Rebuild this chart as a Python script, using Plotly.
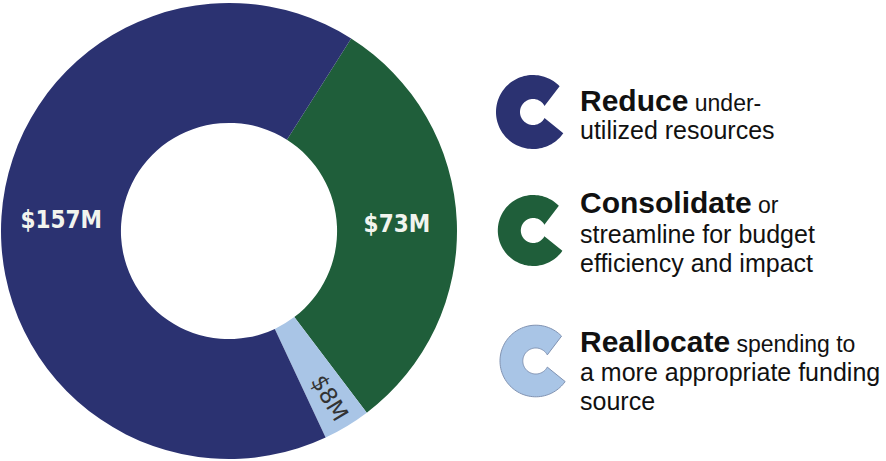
import numpy as np
import plotly.graph_objects as go

# Spending by action (millions of dollars), in clockwise order from the top
categories = ["Consolidate", "Reallocate", "Reduce"]
amounts = [73, 8, 157]
slice_colors = ["#1F5E3A", "#A9C5E6", "#2B3271"]
label_colors = ["#F2F4EE", "#333333", "#F2F4EE"]

# Legend entries: (bold lead word, rest of first line, following lines)
legend_items = [
    ("Reduce", "under-", ["utilized resources"]),
    ("Consolidate", "or", ["streamline for budget", "efficiency and impact"]),
    ("Reallocate", "spending to", ["a more appropriate funding", "source"]),
]
legend_colors = ["#2B3271", "#1F5E3A", "#A9C5E6"]

W, H = 886, 461

labels_txt = [f"${v}M" for v in amounts]
start_angle = 32.4

# donut domain in pixels: centre (229, 231), radius 228
cx, cy, R = 229, 231, 228
dom_x = [(cx - R) / W, (cx + R) / W]
dom_y = [1 - (cy + R) / H, 1 - (cy - R) / H]

fig = go.Figure()

common = dict(
    labels=categories,
    values=amounts,
    sort=False,
    direction="clockwise",
    rotation=start_angle,
    hole=0.474,
    domain=dict(x=dom_x, y=dom_y),
    textinfo="text",
    textposition="inside",
    showlegend=False,
)

# main ring with horizontal labels on the two large slices
fig.add_trace(go.Pie(
    **common,
    text=[t if v > 20 else "" for t, v in zip(labels_txt, amounts)],
    marker=dict(colors=slice_colors, line=dict(width=0)),
    textfont=dict(family="DejaVu Sans Condensed, DejaVu Sans", size=24,
                  weight="bold", color=label_colors),
    insidetextorientation="horizontal",
))

# transparent overlay carrying the radial label of the small slice
fig.add_trace(go.Pie(
    **common,
    text=[t if v <= 20 else "" for t, v in zip(labels_txt, amounts)],
    marker=dict(colors=["rgba(0,0,0,0)"] * len(amounts), line=dict(width=0)),
    textfont=dict(family="DejaVu Sans", size=23, color=label_colors),
    insidetextorientation="radial",
    hoverinfo="skip",
))


def c_icon_path(px, py, r_out, r_in, tips_out=(46, 125), tips_in=(62, 118)):
    """'C' glyph path in paper coordinates; angles clockwise from 12 o'clock.

    The opening faces right; the terminals are cut on a slant from the outer
    tip angle to the inner tip angle.
    """
    up_o, lo_o = tips_out
    up_i, lo_i = tips_in
    pts = []
    # outer edge: from the upper tip, anticlockwise round the left side
    for a in np.linspace(up_o, lo_o - 360, 90):
        t = np.radians(a)
        pts.append((px + r_out * np.sin(t), py - r_out * np.cos(t)))
    # inner edge: from the lower tip, clockwise back to the upper tip
    for a in np.linspace(lo_i - 360, up_i, 90):
        t = np.radians(a)
        pts.append((px + r_in * np.sin(t), py - r_in * np.cos(t)))
    return "M " + " L ".join(f"{x / W:.5f},{1 - y / H:.5f}" for x, y in pts) + " Z"


icon_geom = [(533, 112, 37, 13), (533.3, 230.5, 35.5, 12.5), (535.8, 361, 35.8, 13)]
icon_lines = [0, 0, 1]
for (px, py, ro, ri), col, lw in zip(icon_geom, legend_colors, icon_lines):
    fig.add_shape(
        type="path", path=c_icon_path(px, py, ro, ri),
        xref="paper", yref="paper",
        fillcolor=col,
        line=dict(color="#8193B2", width=lw) if lw else dict(width=0),
    )

# legend text, one annotation per line
line_mid = [[100, 130], [203, 234, 263], [341, 372, 401]]
text_x = 578
for (bold, rest, more), mids in zip(legend_items, line_mid):
    lines = [f"<b><span style='font-size:30px'>{bold}</span></b> {rest}"] + more
    sizes = [23] + [25] * len(more)
    for txt, ym, fs in zip(lines, mids, sizes):
        fig.add_annotation(
            x=text_x / W, y=1 - ym / H, xref="paper", yref="paper",
            xanchor="left", yanchor="middle", showarrow=False,
            text=txt, align="left",
            font=dict(family="Liberation Sans, Arial", size=fs, color="#111111"),
        )

fig.update_layout(
    width=W, height=H,
    margin=dict(l=0, r=0, t=0, b=0),
    paper_bgcolor="white",
    plot_bgcolor="white",
)

fig.write_html("out.html")
